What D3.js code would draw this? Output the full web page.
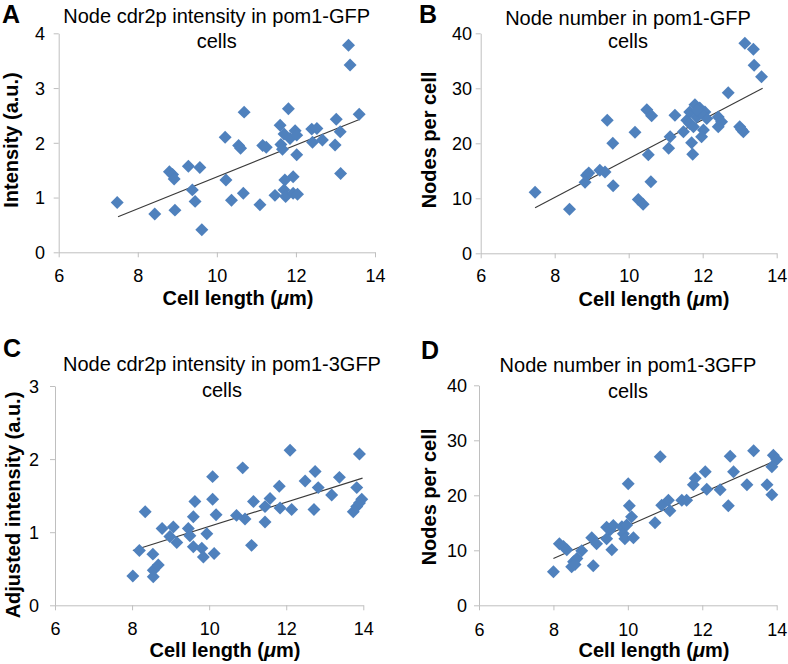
<!DOCTYPE html>
<html><head><meta charset="utf-8">
<script src="https://cdn.jsdelivr.net/npm/d3@7"></script>
<style>body{margin:0;background:#fff}svg{display:block}text{font-family:"Liberation Sans",Arial,Helvetica,sans-serif}</style>
</head><body><svg id="c" width="788" height="664"></svg>
<script>
// ---------- data ----------
const xTicks = [6, 8, 10, 12, 14];

// Panel A: Node cdr2p intensity in pom1-GFP cells
const aX = [7.48,8.43,8.94,8.80,8.88,8.92,9.28,9.57,9.38,9.45,9.62,10.21,10.23,10.37,10.55,10.60,10.69,10.67,11.09,11.16,11.25,11.47,11.60,11.62,11.66,11.70,11.72,11.70,11.74,11.81,11.85,11.93,11.93,11.98,12.02,12.02,12.04,12.40,12.53,12.42,12.67,12.99,13.02,13.13,13.12,13.33,13.37,13.60];
const aY = [0.91,0.70,0.77,1.47,1.42,1.34,1.57,1.55,1.14,0.93,0.41,2.10,1.32,0.95,1.95,1.90,2.56,1.08,0.87,1.95,1.92,1.04,2.32,1.97,1.88,2.16,1.32,1.14,1.02,2.62,2.08,1.38,1.08,2.22,2.14,1.78,1.06,2.25,2.26,2.01,2.05,1.96,2.43,1.44,2.20,3.78,3.42,2.52];
const aTrendX = [7.5, 13.62], aTrendY = [0.65, 2.43];
const aYTicks = [0, 1, 2, 3, 4];

// Panel B: Node number in pom1-GFP cells
const bX = [7.47,8.40,8.82,8.86,8.92,9.22,9.36,9.42,9.57,9.58,10.17,10.26,10.39,10.49,10.62,10.53,10.60,11.08,11.12,11.25,11.48,11.57,11.65,11.65,11.79,11.92,12.06,11.84,12.11,11.75,12.02,11.97,11.70,11.73,12.42,12.51,12.42,12.69,13.00,13.10,13.05,13.14,13.37,13.39,13.59,11.95,11.85];
const bY = [11.1,8.0,12.9,14.2,14.6,15.1,14.8,24.2,20.0,12.3,22.0,9.8,8.9,26.1,25.0,17.9,13.0,19.1,21.2,25.1,22.1,24.2,23.6,25.7,27.0,26.4,25.7,24.8,24.5,23.0,22.4,21.2,20.1,18.0,24.8,23.9,23.0,29.2,23.0,22.1,22.5,38.2,37.1,34.2,32.1,25.5,26.0];
const bTrendX = [7.47, 13.62], bTrendY = [8.3, 30.0];
const bYTicks = [0, 10, 20, 30, 40];

// Panel C: Node cdr2p intensity in pom1-3GFP cells
const cX = [8.02,8.19,8.34,8.54,8.55,8.68,8.55,8.78,9.07,8.98,9.16,9.46,9.50,9.59,9.63,9.59,9.81,9.85,9.94,10.09,10.09,10.18,10.13,10.71,10.93,10.87,11.10,11.15,11.45,11.45,11.58,11.82,11.84,12.10,12.14,12.49,12.75,12.83,12.72,13.18,13.38,13.90,13.83,13.74,13.83,13.96,13.90];
const cY = [0.40,0.75,1.28,0.70,0.48,0.55,0.39,1.05,1.07,0.94,0.86,1.05,0.95,1.21,1.42,0.80,0.78,0.66,0.98,1.76,1.45,1.24,0.71,1.23,1.18,1.88,0.82,1.42,1.14,1.35,1.46,1.63,1.33,2.12,1.31,1.70,1.83,1.61,1.31,1.51,1.75,2.07,1.61,1.28,1.35,1.45,1.40];
const cTrendX = [8.02, 13.98], cTrendY = [0.75, 1.74];
const cYTicks = [0, 1, 2, 3];

// Panel D: Node number in pom1-3GFP cells
const dX = [8.00,8.16,8.27,8.36,8.54,8.63,8.49,8.58,8.76,9.07,9.03,9.16,9.43,9.52,9.61,9.43,9.57,9.84,9.88,9.92,10.01,10.04,10.10,10.15,9.97,10.73,10.87,10.91,11.09,11.13,11.45,11.58,11.81,11.76,12.08,12.12,12.48,12.70,12.75,12.84,13.20,13.38,13.74,13.87,13.91,14.00,13.87];
const dY = [6.1,11.2,10.7,10.1,7.9,8.5,7.0,7.4,9.9,7.2,12.3,11.2,14.2,13.7,14.5,12.1,10.1,14.3,13.0,12.1,22.1,18.1,16.1,12.3,14.6,15.0,27.0,18.2,19.1,17.2,19.1,19.1,23.1,21.9,24.3,21.1,21.0,18.1,27.1,24.3,21.9,28.1,21.9,20.1,27.3,26.5,25.2];
const dTrendX = [8.0, 14.0], dTrendY = [8.5, 26.4];
const dYTicks = [0, 10, 20, 30, 40];

// ---------- layout ----------
const panels = [
  {letter:"A", title:["Node cdr2p intensity in pom1-GFP","cells"], ytitle:"Intensity (a.u.)",
   xs:aX, ys:aY, tx:aTrendX, ty:aTrendY, yTicks:aYTicks,
   L:{x0:58.7,x1:375,y0:252.3,y1:33.3,tcx:216.7,tb1:23,tb2:47.5,lx:2,ly:23,ytx:18,yty:140,xtx:238,xty:305,xlb:282,ylr:45}},
  {letter:"B", title:["Node number in pom1-GFP","cells"], ytitle:"Nodes per cell",
   xs:bX, ys:bY, tx:bTrendX, ty:bTrendY, yTicks:bYTicks,
   L:{x0:480.7,x1:776.7,y0:253.3,y1:33.3,tcx:628,tb1:24.5,tb2:48,lx:419,ly:23,ytx:436,yty:140,xtx:654,xty:306,xlb:282,ylr:472}},
  {letter:"C", title:["Node cdr2p intensity in pom1-3GFP","cells"], ytitle:"Adjusted intensity (a.u.)",
   xs:cX, ys:cY, tx:cTrendX, ty:cTrendY, yTicks:cYTicks,
   L:{x0:55,x1:363.3,y0:605.3,y1:386,tcx:222,tb1:371,tb2:397,lx:3,ly:357,ytx:19.5,yty:505,xtx:225,xty:657,xlb:635.5,ylr:39}},
  {letter:"D", title:["Node number in pom1-3GFP","cells"], ytitle:"Nodes per cell",
   xs:dX, ys:dY, tx:dTrendX, ty:dTrendY, yTicks:dYTicks,
   L:{x0:479,x1:776.7,y0:605.3,y1:385.3,tcx:628,tb1:372,tb2:397.5,lx:421,ly:358.5,ytx:436,yty:497,xtx:654,xty:657,xlb:636,ylr:467}}
];

const svg = d3.select("#c");
const axisCol = "#bfbfbf", markCol = "#4f81bd";
const diamond = d3.symbol(d3.symbolSquare, 84)();

panels.forEach(p => {
  const L = p.L;
  const g = svg.append("g");
  const x = d3.scaleLinear().domain([6, 14]).range([L.x0, L.x1]);
  const y = d3.scaleLinear().domain([0, d3.max(p.yTicks)]).range([L.y0, L.y1]);

  // axes
  const xa = g.append("g").attr("transform", `translate(0,${L.y0})`)
    .call(d3.axisBottom(x).tickValues(xTicks).tickSize(5).tickSizeOuter(0).tickFormat(d3.format("d")));
  const ya = g.append("g").attr("transform", `translate(${L.x0},0)`)
    .call(d3.axisLeft(y).tickValues(p.yTicks).tickSize(5).tickSizeOuter(0).tickFormat(d3.format("d")));
  [xa, ya].forEach(a => {
    a.select(".domain").attr("stroke", axisCol).attr("stroke-width", 1);
    a.selectAll(".tick line").attr("stroke", axisCol);
    a.selectAll(".tick text").attr("fill", "#000").attr("font-size", 18)
      .attr("font-family", '"Liberation Sans",Arial,sans-serif');
  });
  xa.selectAll(".tick text").attr("dy", null).attr("y", L.xlb - L.y0);
  ya.selectAll(".tick text").attr("dy", null).attr("x", L.ylr - L.x0).attr("y", 6.4).attr("text-anchor", "end");

  // trend line
  g.append("line")
    .attr("x1", x(p.tx[0])).attr("y1", y(p.ty[0]))
    .attr("x2", x(p.tx[1])).attr("y2", y(p.ty[1]))
    .attr("stroke", "#3a3a3a").attr("stroke-width", 1.1);

  // points
  g.append("g").selectAll("path").data(p.xs.map((v, i) => [v, p.ys[i]])).join("path")
    .attr("d", diamond)
    .attr("transform", d => `translate(${x(d[0])},${y(d[1])}) rotate(45)`)
    .attr("fill", markCol);

  // title
  g.append("text").attr("x", L.tcx).attr("y", L.tb1).attr("text-anchor", "middle")
    .attr("font-size", 20).text(p.title[0]);
  g.append("text").attr("x", L.tcx).attr("y", L.tb2).attr("text-anchor", "middle")
    .attr("font-size", 20).text(p.title[1]);

  // panel letter
  g.append("text").attr("x", L.lx).attr("y", L.ly).attr("font-size", 25)
    .attr("font-weight", "bold").text(p.letter);

  // y title
  g.append("text").attr("transform", `translate(${L.ytx},${L.yty}) rotate(-90)`)
    .attr("text-anchor", "middle").attr("font-size", 20).attr("font-weight", "bold").text(p.ytitle);

  // x title
  const xt = g.append("text").attr("x", L.xtx).attr("y", L.xty).attr("text-anchor", "middle")
    .attr("font-size", 20).attr("font-weight", "bold");
  xt.append("tspan").text("Cell length (");
  xt.append("tspan").attr("font-style", "italic").text("\u03bc");
  xt.append("tspan").text("m)");
});
</script></body></html>
